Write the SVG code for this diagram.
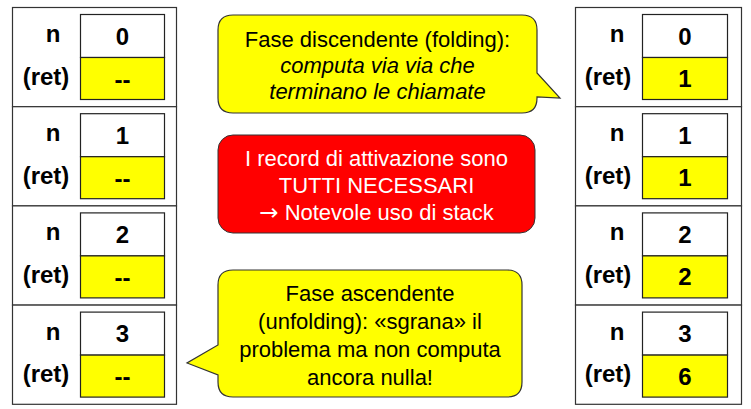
<svg xmlns="http://www.w3.org/2000/svg" width="751" height="409" viewBox="0 0 751 409">
<style>
.frame{fill:#fff;stroke:#333;stroke-width:1.2}
.cellw{fill:#fff;stroke:#222;stroke-width:1.2}
.celly{fill:#ffff00;stroke:#222;stroke-width:1.2}
.lbl{font-family:"Liberation Sans",Arial,sans-serif;font-weight:bold;font-size:24px;fill:#000;text-anchor:middle}
.note{font-family:"Liberation Sans",Arial,sans-serif;font-size:22px;fill:#000;text-anchor:middle}
.it{font-style:italic}
.wt{fill:#fff}
.arr{font-family:"DejaVu Sans",sans-serif;font-size:23px}
.bub{fill:#ffff00;stroke:#333;stroke-width:1.2}
.red{fill:#ff0000;stroke:#333;stroke-width:1}
</style>
<defs>
<g id="lframe">
<rect class="frame" x="12.5" y="0" width="164" height="99.2"/>
<rect class="cellw" x="80.5" y="7" width="84" height="43"/>
<rect class="celly" x="80.5" y="50" width="84" height="42"/>
<text class="lbl" x="53" y="34.5">n</text>
<text class="lbl" x="46" y="77">(ret)</text>
</g>
<g id="rframe">
<rect class="frame" x="575.5" y="0" width="166" height="99.2"/>
<rect class="cellw" x="642.5" y="7" width="85" height="43"/>
<rect class="celly" x="642.5" y="50" width="85" height="42"/>
<text class="lbl" x="617" y="34.5">n</text>
<text class="lbl" x="608" y="77">(ret)</text>
</g>
</defs>
<g id="left-stack">
<g id="L0" transform="translate(0,7.5)"><use href="#lframe"/><text class="lbl" x="122.5" y="37">0</text><text class="lbl" x="122.5" y="80">--</text></g>
<g id="L1" transform="translate(0,106.7)"><use href="#lframe"/><text class="lbl" x="122.5" y="37">1</text><text class="lbl" x="122.5" y="80">--</text></g>
<g id="L2" transform="translate(0,205.9)"><use href="#lframe"/><text class="lbl" x="122.5" y="37">2</text><text class="lbl" x="122.5" y="80">--</text></g>
<g id="L3" transform="translate(0,305.1)"><use href="#lframe"/><text class="lbl" x="122.5" y="37">3</text><text class="lbl" x="122.5" y="80">--</text></g>
</g>
<g id="right-stack">
<g id="R0" transform="translate(0,7.5)"><use href="#rframe"/><text class="lbl" x="685" y="37">0</text><text class="lbl" x="685" y="79.5">1</text></g>
<g id="R1" transform="translate(0,106.7)"><use href="#rframe"/><text class="lbl" x="685" y="37">1</text><text class="lbl" x="685" y="79.5">1</text></g>
<g id="R2" transform="translate(0,205.9)"><use href="#rframe"/><text class="lbl" x="685" y="37">2</text><text class="lbl" x="685" y="79.5">2</text></g>
<g id="R3" transform="translate(0,305.1)"><use href="#rframe"/><text class="lbl" x="685" y="37">3</text><text class="lbl" x="685" y="79.5">6</text></g>
</g>
<g id="callout-folding">
<path class="bub" d="M233,15 H522 Q537,15 537,30 V73 L560,98 L537,97 V98 Q537,113 522,113 H233 Q218,113 218,98 V30 Q218,15 233,15 Z"/>
<text class="note" x="377.5" y="47">Fase discendente (folding):</text>
<text class="note it" x="377.5" y="73">computa via via che</text>
<text class="note it" x="377.5" y="99">terminano le chiamate</text>
</g>
<g id="callout-stack">
<rect class="red" x="218" y="135" width="317" height="98" rx="15"/>
<text class="note wt" x="376.5" y="166">I record di attivazione sono</text>
<text class="note wt" x="376.5" y="193">TUTTI NECESSARI</text>
<text class="note wt" x="376.5" y="220"><tspan class="arr">→</tspan> Notevole uso di stack</text>
</g>
<g id="callout-unfolding">
<path class="bub" d="M233,270 H507 Q522,270 522,285 V382 Q522,397 507,397 H233 Q218,397 218,382 V375 L187,363 L218,345 V285 Q218,270 233,270 Z"/>
<text class="note" x="370" y="301">Fase ascendente</text>
<text class="note" x="370" y="329">(unfolding): «sgrana» il</text>
<text class="note" x="370" y="357">problema ma non computa</text>
<text class="note" x="370" y="385">ancora nulla!</text>
</g>
</svg>
